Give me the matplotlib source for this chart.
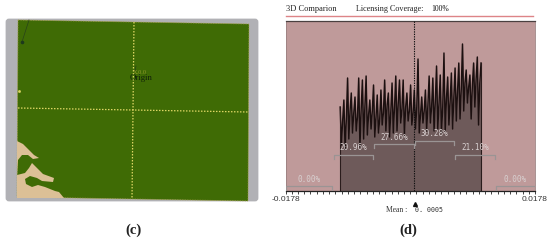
import numpy as np
import matplotlib
matplotlib.use('Agg')
import matplotlib.pyplot as plt
from matplotlib.patches import FancyBboxPatch, Polygon

# panel (c), map outlines in pixels
plate_corners = [(18, 20), (249, 24), (248, 201), (17, 197)]
bare_ground = [(17, 141), (23, 144), (29, 150), (34, 155), (39, 158), (33, 159), (28, 155),
               (22, 155), (18, 160), (17, 175), (25, 173), (29, 168), (32, 163), (37, 168),
               (43, 174), (54, 178), (53, 182), (42, 181), (37, 178), (30, 176), (25, 179),
               (26, 184), (32, 187), (38, 185), (45, 187), (55, 191), (59, 192), (64, 198),
               (17, 198)]

# panel (d), histogram heights
counts = [
    84, 46, 70, 91, 42, 72, 113, 52, 80, 98, 58, 78, 94, 60, 74, 113, 44, 82,
    111, 52, 84, 115, 56, 76, 91, 62, 80, 106, 54, 74, 96, 58, 72, 101, 66, 78,
    111, 60, 86, 98, 54, 80, 108, 58, 84, 115, 60, 88, 111, 68, 82, 111, 56, 84,
    98, 70, 80, 106, 66, 78, 101, 62, 84, 132, 58, 76, 94, 68, 80, 101, 60, 86,
    115, 68, 84, 113, 60, 90, 125, 62, 88, 116, 58, 84, 138, 60, 92, 114, 66, 90,
    118, 62, 94, 123, 70, 100, 128, 72, 102, 147, 80, 108, 121, 88, 104, 116, 72, 106,
    128, 84, 112, 134, 66, 108, 128,
]
bin_start = -0.0100
bin_stop = 0.0101

x_min = -0.0178
x_max = 0.0178
mean_value = 0.0005

shares = ['0.00%', '20.96%', '27.66%', '30.28%', '21.10%', '0.00%']
share_left = [-0.0178, -0.01088, -0.00517, 0.00068, 0.00639, 0.01224]
share_right = [-0.01117, -0.00531, 0.00053, 0.00624, 0.0121, 0.0178]
share_level = [5, 36, 47, 50, 36, 5]

plt.rcParams['font.family'] = ['Liberation Serif', 'DejaVu Serif']

fig = plt.figure(figsize=(5.5, 2.42), dpi=100, facecolor='white')

# left panel works in picture pixels
ax_map = fig.add_axes([0, 0, 0.5, 1])
ax_map.set_xlim(0, 275)
ax_map.set_ylim(242, 0)
ax_map.axis('off')

ax_map.add_patch(FancyBboxPatch((7, 20), 250, 180, boxstyle='round,pad=0,rounding_size=2',
                                facecolor='#b1b1b5', edgecolor='#b1b1b5', linewidth=2))
ax_map.add_patch(Polygon(plate_corners, closed=True, facecolor='#3f6b05',
                         edgecolor='#a9a04a', linewidth=0.6, linestyle=(0, (1, 1))))
ax_map.add_patch(Polygon(bare_ground, closed=True, facecolor='#dcc096', edgecolor='none'))

ax_map.plot([134, 132], [22, 199], color='#ded664', lw=0.9, ls=(0, (1.2, 1.2)))
ax_map.plot([18, 248], [108, 112], color='#ded664', lw=0.9, ls=(0, (1.2, 1.2)))
ax_map.plot([29, 22], [20, 42], color='#28421a', lw=0.5)
ax_map.plot([22], [42], 'o', color='#1d3a1d', ms=1.6)
ax_map.plot([19], [91], 's', color='#ded664', ms=0.9)
ax_map.plot([136, 135], [66, 71], color='#28421a', lw=0.5)

ax_map.text(140, 72, 'X.0.0', fontsize=4.5, color='#8f9a2a', ha='center', va='center')
ax_map.text(141.5, 78, 'Origin', fontsize=6.3, color='#10200a', ha='center', va='center')
ax_map.text(133, 230, '(c)', fontsize=10.5, fontweight='bold', color='#222222',
            ha='center', va='center')

# right panel, histogram
ax = fig.add_axes([285.5 / 550, 1 - 191 / 242, 249.5 / 550, 170 / 242])
ax.set_facecolor('#bf9a9a')
ax.set_xlim(x_min, x_max)
ax.set_ylim(0, 170)

bins = np.linspace(bin_start, bin_stop, len(counts))
ax.fill_between(bins, 0, counts, color='#6e5a5a', lw=0, zorder=2)
ax.plot(bins, counts, color='#1c1010', lw=1.05, zorder=3)
ax.plot([bin_start, bin_start], [0, counts[0]], color='#2a1c1c', lw=0.8, zorder=3)
ax.plot([bin_stop, bin_stop], [0, counts[-1]], color='#2a1c1c', lw=0.8, zorder=3)
ax.axvline(mean_value, color='#111111', lw=0.8, ls=(0, (1.2, 1)), zorder=4)

for label, left, right, level in zip(shares, share_left, share_right, share_level):
    ax.plot([left, left, right, right], [level - 4, level, level, level - 4],
            color='#9a9494', lw=0.9, zorder=5)
    ax.text((left + right) / 2, level + 7, label, fontsize=5.5, color='#d8d0d0',
            family=['DejaVu Sans Mono'], ha='center', va='center', zorder=5)

ax.set_yticks([])
ax.set_xticks(np.linspace(x_min, x_max, 41))
ax.set_xticklabels([])
ax.tick_params(axis='x', length=2.2, width=0.6, color='#222222', direction='out')
for side in ['left', 'right']:
    ax.spines[side].set_color('#9a8080')
    ax.spines[side].set_linewidth(0.6)
ax.spines['top'].set_color('#4a4040')
ax.spines['top'].set_linewidth(0.9)
ax.spines['bottom'].set_color('#222222')
ax.spines['bottom'].set_linewidth(0.9)

# header, footer and labels go on the pixel layer
ax_top = fig.add_axes([0, 0, 1, 1], facecolor='none')
ax_top.set_xlim(0, 550)
ax_top.set_ylim(242, 0)
ax_top.axis('off')

ax_top.text(286, 9, '3D Comparion', fontsize=6, color='#222222', va='center')
ax_top.text(355.5, 9, 'Licensing Coverage:', fontsize=5.9, color='#222222', va='center')
ax_top.text(431.5, 9, '100%', fontsize=5.5, color='#111111', va='center')
ax_top.plot([286, 533], [16, 16], color='#dd8487', lw=1)

ax_top.text(286, 199.5, '-0.0178', fontsize=6, color='#333333', ha='center', va='center',
            family=['Liberation Sans'])
ax_top.text(535, 199.5, '0.0178', fontsize=6, color='#333333', ha='center', va='center',
            family=['Liberation Sans'])
ax_top.plot([414.5], [203.5], '^', color='#111111', ms=2.8)
ax_top.text(397, 210, 'Mean :', fontsize=5.5, color='#333333', ha='center', va='center')
ax_top.text(415, 210, '0. 0005', fontsize=4.8, color='#333333', ha='left', va='center',
            family=['DejaVu Sans Mono'])
ax_top.text(408, 230, '(d)', fontsize=10.5, fontweight='bold', color='#222222',
            ha='center', va='center')

fig.savefig('out.png', dpi=100)
